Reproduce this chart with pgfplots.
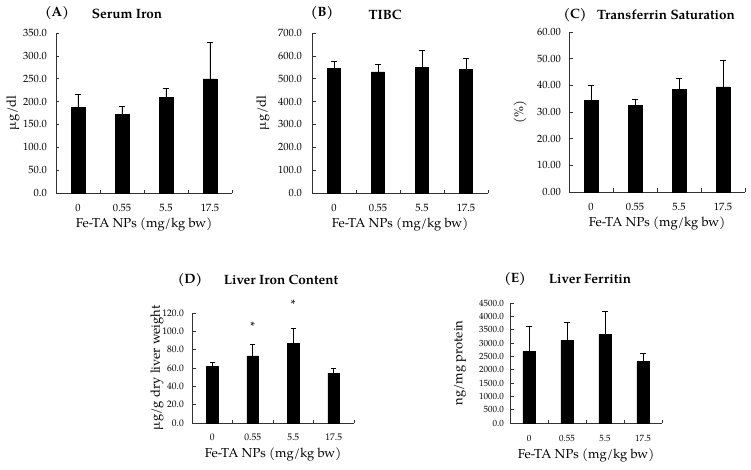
\documentclass[border=0pt]{standalone}
\usepackage{fontspec}
\setmainfont{TeX Gyre Pagella}
\usepackage{pgfplots}
\pgfplotsset{compat=1.18}

\pgfplotsset{
  panel/.style={
    scale only axis,
    axis x line=bottom, axis y line=left,
    axis line style={-, line width=0.7pt, black!80},
    tick align=inside,
    major tick length=3.5pt, minor tick length=3.5pt,
    every tick/.style={line width=0.7pt, black!80},
    xmin=-0.5, xmax=3.5, ymin=0,
    xtick={0,1,2,3}, xticklabels={0,0.55,5.5,17.5},
    minor xtick={0.5,1.5,2.5,3.5},
    major x tick style={draw=none},
    /pgf/number format/assume math mode=true,
    /pgf/number format/fixed, /pgf/number format/fixed zerofill,
    /pgf/number format/precision=1, /pgf/number format/1000 sep={},
    tick label style={font=\fontsize{10.5}{12}\selectfont},
    xticklabel style={anchor=base, yshift=-18.5pt},
    label style={font=\fontsize{13}{14}\selectfont},
    clip=false,
  },
  bars/.style={
    ybar, fill=black, draw=black,
    error bars/y dir=plus, error bars/y explicit,
    error bars/error bar style={line width=0.9pt, black},
    error bars/error mark options={rotate=90, mark size=2.6pt, line width=0.9pt, black},
  },
}
\newcommand{\ttl}[1]{\fontsize{13.5}{15}\selectfont\bfseries #1}

\begin{document}
\begin{tikzpicture}
\path[use as bounding box] (0,0) rectangle (751pt,469pt);

% (A) Serum Iron
\begin{axis}[panel, at={(56pt,276pt)}, anchor=south west, width=176pt, height=160pt,
  ymax=350, ytick={0,50,...,350},
  yticklabel style={xshift=-5.7pt},
  ylabel={µg/dl}, ylabel style={at={(axis description cs:-0.244,0.5)}, anchor=center},
  xlabel={Fe-TA NPs (mg/kg bw)}, xlabel style={at={(axis description cs:0.5,-0.2)}, anchor=center}]
\addplot[bars, bar width=13.7pt] table[x=x, y=y, y error=e] {
x y e
0 187.4 27.1
1 172.8 17.5
2 208.6 19.8
3 249.6 80.6
};
\end{axis}

% (B) TIBC
\begin{axis}[panel, at={(312pt,276pt)}, anchor=south west, width=176pt, height=160pt,
  ymax=700, ytick={0,100,...,700},
  yticklabel style={xshift=-6.7pt},
  ylabel={µg/dl}, ylabel style={at={(axis description cs:-0.278,0.5)}, anchor=center},
  xlabel={Fe-TA NPs (mg/kg bw)}, xlabel style={at={(axis description cs:0.5,-0.2)}, anchor=center}]
\addplot[bars, bar width=13.3pt] table[x=x, y=y, y error=e] {
x y e
0 546 29
1 530 33
2 550 74
3 542 48
};
\end{axis}

% (C) Transferrin Saturation
\begin{axis}[panel, at={(569pt,277pt)}, anchor=south west, width=176pt, height=160pt,
  ymax=60, ytick={0,10,...,60},
  /pgf/number format/precision=2,
  yticklabel style={xshift=-4.7pt},
  ylabel={(\%)}, ylabel style={at={(axis description cs:-0.278,0.5)}, anchor=center},
  xlabel={Fe-TA NPs (mg/kg bw)}, xlabel style={at={(axis description cs:0.5,-0.2)}, anchor=center}]
\addplot[bars, bar width=13.7pt] table[x=x, y=y, y error=e] {
x y e
0 34.4 5.5
1 32.6 2.1
2 38.6 3.8
3 39.4 10.1
};
\end{axis}

% (D) Liver Iron Content
\begin{axis}[panel, at={(192pt,46pt)}, anchor=south west, width=162pt, height=110pt,
  ymax=120, ytick={0,20,...,120},
  tick label style={font=\fontsize{9.5}{11}\selectfont},
  xticklabel style={yshift=1pt},
  yticklabel style={xshift=-4.7pt},
  ylabel={µg/g dry liver weight}, ylabel style={at={(axis description cs:-0.216,0.5)}, anchor=center},
  xlabel={Fe-TA NPs (mg/kg bw)}, xlabel style={at={(axis description cs:0.5,-0.282)}, anchor=center}]
\addplot[bars, bar width=11.7pt] table[x=x, y=y, y error=e] {
x y e
0 61.8 4.7
1 73.1 12.4
2 86.9 16.7
3 54.5 5.5
};
\addplot[only marks, mark=text, text mark={*}, text mark as node=true,
  text mark style={font=\fontsize{12}{12}\selectfont, anchor=center, inner sep=0pt}]
  coordinates {(1,105.5) (2,130)};
\end{axis}

% (E) Liver Ferritin
\begin{axis}[panel, at={(510pt,46pt)}, anchor=south west, width=152pt, height=120pt,
  ymax=4500, ytick={0,500,...,4500},
  tick label style={font=\fontsize{9}{11}\selectfont},
  yticklabel style={xshift=-2.7pt},
  ylabel={ng/mg protein}, ylabel style={at={(axis description cs:-0.329,0.5)}, anchor=center},
  xlabel={Fe-TA NPs (mg/kg bw)}, xlabel style={at={(axis description cs:0.5,-0.267)}, anchor=center}]
\addplot[bars, bar width=12.3pt] table[x=x, y=y, y error=e] {
x y e
0 2687 938
1 3100 687
2 3325 875
3 2300 325
};
\end{axis}

% titles
\node[anchor=center] at (57pt,456pt) {\ttl{(A)}};
\node[anchor=center] at (127pt,455pt) {\ttl{Serum Iron}};
\node[anchor=center] at (322pt,456pt) {\ttl{(B)}};
\node[anchor=center] at (385pt,454pt) {\ttl{TIBC}};
\node[anchor=center] at (575pt,454pt) {\ttl{(C)}};
\node[anchor=center] at (666pt,454pt) {\ttl{Transferrin Saturation}};
\node[anchor=center] at (190pt,189pt) {\ttl{(D)}};
\node[anchor=center] at (281pt,189pt) {\ttl{Liver Iron Content}};
\node[anchor=center] at (515pt,190pt) {\ttl{(E)}};
\node[anchor=center] at (590pt,190pt) {\ttl{Liver Ferritin}};
\end{tikzpicture}
\end{document}
